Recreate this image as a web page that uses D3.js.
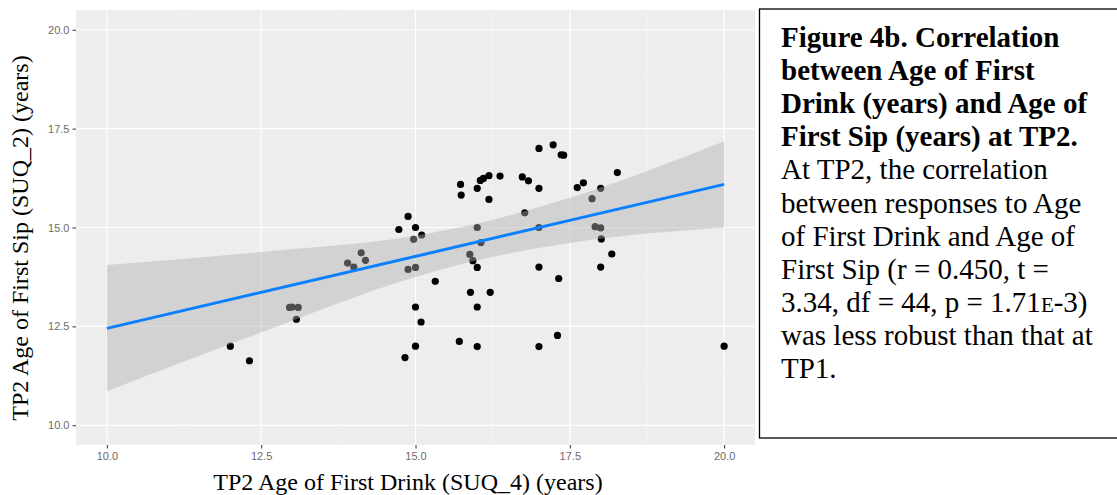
<!DOCTYPE html>
<html>
<head>
<meta charset="utf-8">
<script src="https://cdn.jsdelivr.net/npm/d3@7"></script>
<style>
body { margin: 0; background: #fff; }
.tick text { font-family: "Liberation Sans", Arial, sans-serif; font-size: 11px; fill: #6b6b6b; }
.tick line { stroke: #333; }
</style>
</head>
<body>
<div id="chart"></div>
<script>
// data (jittered points)
var drink = [12.0, 12.31, 12.96, 13.0, 13.10, 13.07, 13.90, 14.0, 14.12, 14.19, 14.73, 14.88, 15.0, 15.10, 14.97, 14.88,
  15.0, 15.32, 15.0, 15.09, 15.0, 14.83, 15.73, 15.74, 16.0, 16.05, 16.10, 16.19, 16.19, 16.37, 16.0, 16.06,
  15.88, 15.93, 16.0, 15.89, 16.21, 16.0, 15.71, 16.0, 16.73, 16.83, 17.0, 17.0, 17.23, 17.36, 17.40, 16.77,
  17.0, 17.62, 17.72, 18.0, 17.86, 17.91, 18.0, 18.01, 18.18, 18.27, 17.0, 17.32, 18.0, 17.30, 17.0, 20.0]
var sip = [12.0, 11.63, 12.98, 12.99, 12.98, 12.68, 14.10, 14.0, 14.36, 14.17, 14.95, 15.28, 15.0, 14.81, 14.70, 13.94,
  13.99, 13.64, 12.99, 12.61, 12.0, 11.71, 16.09, 15.82, 15.99, 16.19, 16.24, 16.31, 15.71, 16.30, 15.0, 14.62,
  14.32, 14.16, 13.99, 13.36, 13.36, 12.99, 12.12, 11.99, 16.28, 16.18, 17.0, 15.99, 17.09, 16.84, 16.83, 15.37,
  15.0, 16.01, 16.13, 15.99, 15.73, 15.02, 14.99, 14.71, 14.33, 16.39, 14.0, 13.71, 14.0, 12.27, 11.99, 12.0]

// fitted line and its confidence band
var fitX = [10, 20]
var fitY = [12.45, 16.09]
var bandX = [10, 12.5, 15, 16, 17.5, 20]
var bandLo = [10.86, 12.35, 13.75, 14.17, 14.61, 15.0]
var bandHi = [14.05, 14.38, 14.79, 15.10, 15.75, 17.18]

var ticks = [10.0, 12.5, 15.0, 17.5, 20.0]
var minorTicks = [11.25, 13.75, 16.25, 18.75]

var xTitle = "TP2 Age of First Drink (SUQ_4) (years)"
var yTitle = "TP2 Age of First Sip (SUQ_2) (years)"

var captionBold = ["Figure 4b. Correlation", "between Age of First", "Drink (years) and Age of", "First Sip (years) at TP2."]
var captionPlain = ["At TP2, the correlation", "between responses to Age", "of First Drink and Age of",
  "First Sip (r = 0.450, t =", "3.34, df = 44, p = 1.71E-3)", "was less robust than that at", "TP1."]

var W = 1117, H = 495
var panel = {left: 76, top: 10, right: 755, bottom: 445}

var svg = d3.select("#chart").append("svg")
    .attr("width", W)
    .attr("height", H)

svg.append("rect").attr("width", W).attr("height", H).attr("fill", "#fff")

var xScale = d3.scaleLinear().domain([9.5, 20.5]).range([panel.left, panel.right])
var yScale = d3.scaleLinear().domain([9.5, 20.5]).range([panel.bottom, panel.top])

// panel background
svg.append("rect")
    .attr("x", panel.left).attr("y", panel.top)
    .attr("width", panel.right - panel.left).attr("height", panel.bottom - panel.top)
    .attr("fill", "#ededed")

// grid lines
var grid = svg.append("g")
grid.selectAll(".vminor").data(minorTicks).enter().append("line")
    .attr("x1", d => xScale(d)).attr("x2", d => xScale(d))
    .attr("y1", panel.top).attr("y2", panel.bottom)
    .attr("stroke", "#f7f7f7").attr("stroke-width", 0.6)
grid.selectAll(".hminor").data(minorTicks).enter().append("line")
    .attr("y1", d => yScale(d)).attr("y2", d => yScale(d))
    .attr("x1", panel.left).attr("x2", panel.right)
    .attr("stroke", "#f7f7f7").attr("stroke-width", 0.6)
grid.selectAll(".vmajor").data(ticks).enter().append("line")
    .attr("x1", d => xScale(d)).attr("x2", d => xScale(d))
    .attr("y1", panel.top).attr("y2", panel.bottom)
    .attr("stroke", "#fff").attr("stroke-width", 1.2)
grid.selectAll(".hmajor").data(ticks).enter().append("line")
    .attr("y1", d => yScale(d)).attr("y2", d => yScale(d))
    .attr("x1", panel.left).attr("x2", panel.right)
    .attr("stroke", "#fff").attr("stroke-width", 1.2)

// points (drawn before the band, so the band greys them)
svg.append("g").selectAll("circle")
    .data(drink)
  .enter().append("circle")
    .attr("cx", d => xScale(d))
    .attr("cy", (d, i) => yScale(sip[i]))
    .attr("r", 3.6)
    .attr("fill", "#000")

// confidence band
var area = d3.area()
    .x((d, i) => xScale(bandX[i]))
    .y0((d, i) => yScale(bandLo[i]))
    .y1((d, i) => yScale(bandHi[i]))
    .curve(d3.curveMonotoneX)
svg.append("path")
    .datum(bandX)
    .attr("d", area)
    .attr("fill", "#b0b0b0")
    .attr("fill-opacity", 0.44)

// fitted line
var line = d3.line()
    .x((d, i) => xScale(fitX[i]))
    .y((d, i) => yScale(fitY[i]))
svg.append("path")
    .datum(fitX)
    .attr("d", line)
    .attr("fill", "none")
    .attr("stroke", "#0a80ff")
    .attr("stroke-width", 3)

// axes
svg.append("g")
    .attr("transform", "translate(0," + panel.bottom + ")")
    .call(d3.axisBottom(xScale).tickValues(ticks).tickFormat(d3.format(".1f")).tickSize(3.5).tickPadding(4))
    .call(g => g.select(".domain").remove())
svg.append("g")
    .attr("transform", "translate(" + panel.left + ",0)")
    .call(d3.axisLeft(yScale).tickValues(ticks).tickFormat(d3.format(".1f")).tickSize(3.5).tickPadding(3))
    .call(g => g.select(".domain").remove())

// axis titles
svg.append("text")
    .attr("x", 408)
    .attr("y", 490)
    .attr("text-anchor", "middle")
    .attr("font-family", "'Liberation Serif', 'Times New Roman', serif")
    .attr("font-size", 24)
    .text(xTitle)
svg.append("text")
    .attr("transform", "translate(28,238) rotate(-90)")
    .attr("text-anchor", "middle")
    .attr("font-family", "'Liberation Serif', 'Times New Roman', serif")
    .attr("font-size", 24)
    .text(yTitle)

// caption box
svg.append("rect")
    .attr("x", 759.5).attr("y", 9)
    .attr("width", 370).attr("height", 429)
    .attr("fill", "#fff").attr("stroke", "#000").attr("stroke-width", 1.3)

var cap = svg.append("g")
    .attr("font-family", "'Liberation Serif', 'Times New Roman', serif")
    .attr("font-size", 29)
var lineH = 33.1
captionBold.forEach(function(t, i) {
  cap.append("text").attr("x", 781).attr("y", 47 + i * lineH)
    .attr("font-weight", "bold").text(t)
})
captionPlain.forEach(function(t, i) {
  var el = cap.append("text").attr("x", 781).attr("y", 47 + (i + 4) * lineH)
  var k = t.indexOf("E-3")
  if (k >= 0) {
    // small-caps E in the p value
    el.append("tspan").text(t.slice(0, k))
    el.append("tspan").attr("font-size", 21).text("E")
    el.append("tspan").text(t.slice(k + 1))
  } else {
    el.text(t)
  }
})
</script>
</body>
</html>
